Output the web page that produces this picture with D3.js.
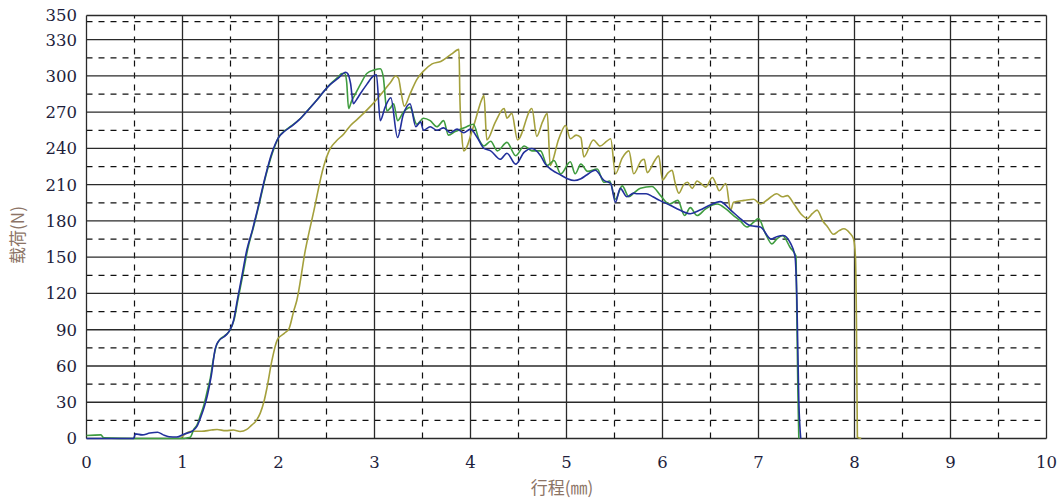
<!DOCTYPE html>
<html>
<head>
<meta charset="utf-8">
<title>载荷-行程曲线</title>
<script src="https://cdnjs.cloudflare.com/ajax/libs/d3/7.8.5/d3.min.js"></script>
<style>
  body { margin: 0; background: #fff; }
  .tick-label { font-family: "DejaVu Serif", serif; font-size: 16.5px; fill: #1e1e3c; }
  .axis-title { font-family: "Noto Sans CJK SC", sans-serif; font-size: 17px; fill: #8c7466; }
</style>
</head>
<body>
<svg id="chart" width="1060" height="500"></svg>
<script>
// distance (mm) vs load (N)
const xTicks = [0, 1, 2, 3, 4, 5, 6, 7, 8, 9, 10]
const yTicks = [0, 30, 60, 90, 120, 150, 180, 210, 240, 270, 300, 330, 350]

const blueRun = [
  [0, 0], [0.49, 0], [0.51, 3.8], [0.58, 3], [0.66, 4.5], [0.74, 5.2], [0.80, 3], [0.86, 1.5],
  [0.94, 1.2], [1.02, 3.8], [1.10, 6], [1.15, 10], [1.19, 17.6], [1.23, 27], [1.26, 36],
  [1.30, 52], [1.34, 74], [1.38, 81], [1.43, 84], [1.48, 88], [1.53, 97], [1.57, 114],
  [1.62, 135], [1.67, 156], [1.73, 173], [1.78, 189], [1.86, 216], [1.93, 236], [2.00, 249],
  [2.06, 254], [2.13, 258], [2.22, 264], [2.30, 271], [2.40, 280], [2.47, 287], [2.54, 293],
  [2.62, 298], [2.70, 303], [2.72, 302], [2.75, 294], [2.78, 277], [2.81, 280], [2.85, 285],
  [2.92, 293], [2.99, 300], [3.02, 301], [3.06, 263], [3.11, 274], [3.17, 282], [3.24, 249],
  [3.30, 268], [3.37, 277], [3.43, 258], [3.48, 262], [3.51, 255], [3.58, 258], [3.65, 255],
  [3.72, 257], [3.79, 253], [3.86, 256], [3.93, 253], [4.00, 256], [4.07, 249], [4.14, 240],
  [4.21, 238], [4.31, 231], [4.38, 236], [4.47, 227], [4.56, 237], [4.64, 240], [4.73, 234],
  [4.78, 227], [4.85, 222], [4.94, 218], [5.01, 215], [5.08, 213.5], [5.15, 215], [5.21, 218],
  [5.30, 222], [5.39, 213.5], [5.46, 211], [5.51, 195.5], [5.56, 207], [5.63, 200], [5.70, 203],
  [5.74, 202.5], [5.83, 202.5], [5.90, 200], [5.97, 197], [6.08, 193], [6.18, 189], [6.29, 186],
  [6.39, 189], [6.49, 193], [6.60, 196], [6.71, 189], [6.81, 182], [6.92, 176], [7.02, 175],
  [7.13, 165], [7.19, 167], [7.26, 168], [7.33, 162], [7.38, 151], [7.40, 114], [7.42, 31], [7.44, 0]
]

const greenRun = [
  [0, 2.5], [0.15, 3], [0.18, 0.5], [0.5, 0], [1.0, 0], [1.05, 0.5], [1.08, 1], [1.12, 8],
  [1.15, 11], [1.19, 20], [1.22, 27], [1.26, 40], [1.29, 50], [1.32, 65], [1.35, 76], [1.39, 82],
  [1.44, 85], [1.49, 89], [1.54, 99], [1.58, 116], [1.63, 136], [1.68, 157], [1.74, 175],
  [1.79, 191], [1.87, 218], [1.94, 237], [2.00, 249], [2.07, 255], [2.14, 259], [2.23, 265],
  [2.31, 272], [2.40, 280], [2.48, 288], [2.55, 294], [2.62, 299], [2.66, 302], [2.69, 302],
  [2.71, 295], [2.73, 273], [2.76, 279], [2.80, 285], [2.86, 294], [2.92, 302], [3.00, 305],
  [3.06, 306], [3.09, 300], [3.13, 271], [3.17, 274], [3.20, 277], [3.24, 263], [3.30, 270],
  [3.37, 274], [3.44, 260], [3.51, 265], [3.58, 263], [3.65, 258], [3.72, 263], [3.77, 251],
  [3.84, 254], [3.90, 256], [3.96, 258], [4.03, 260], [4.09, 247], [4.14, 242], [4.21, 246],
  [4.28, 238], [4.38, 245], [4.47, 234], [4.56, 242], [4.64, 238], [4.73, 238], [4.80, 226],
  [4.87, 230], [4.94, 219], [5.04, 229], [5.09, 219], [5.15, 227], [5.22, 221], [5.32, 223],
  [5.39, 212], [5.45, 213], [5.51, 198], [5.58, 209], [5.65, 200], [5.70, 203], [5.77, 207],
  [5.89, 208.5], [5.98, 201], [6.07, 194], [6.16, 197], [6.23, 184.5], [6.29, 191], [6.36, 184.5],
  [6.45, 190], [6.57, 194], [6.66, 190], [6.74, 184.5], [6.81, 180], [6.88, 175], [6.95, 179],
  [7.00, 182], [7.07, 170], [7.14, 161], [7.19, 165], [7.25, 168], [7.33, 158], [7.39, 151],
  [7.40, 100], [7.41, 40], [7.42, 0]
]

const oliveRun = [
  [0.98, 0], [1.01, 2.5], [1.10, 6], [1.20, 6], [1.30, 7], [1.36, 7.4], [1.45, 6.5], [1.53, 7],
  [1.60, 5.8], [1.67, 7.5], [1.72, 11], [1.77, 15], [1.81, 21], [1.85, 31], [1.88, 42], [1.93, 64],
  [1.99, 82], [2.06, 87], [2.11, 91], [2.16, 106], [2.19, 114], [2.28, 156], [2.37, 189],
  [2.47, 225], [2.54, 240], [2.60, 246], [2.68, 252], [2.75, 259], [2.82, 264], [2.96, 275],
  [3.10, 288], [3.17, 295], [3.22, 300], [3.25, 298], [3.28, 285], [3.31, 275], [3.37, 285],
  [3.44, 297], [3.51, 304], [3.60, 310], [3.69, 312], [3.80, 318], [3.88, 322], [3.89, 280],
  [3.91, 250], [3.93, 238], [4.03, 258], [4.12, 281], [4.14, 284], [4.17, 247], [4.26, 262],
  [4.35, 273], [4.38, 265], [4.43, 269], [4.49, 247], [4.64, 273], [4.69, 250],
  [4.75, 262], [4.80, 269], [4.83, 226], [4.92, 248], [4.99, 259], [5.04, 248], [5.10, 251],
  [5.15, 249], [5.18, 233], [5.28, 247], [5.35, 242], [5.42, 246], [5.46, 248], [5.51, 219],
  [5.58, 232], [5.65, 238], [5.70, 219], [5.78, 230], [5.81, 231], [5.84, 220], [5.92, 230],
  [5.96, 234], [6.00, 214], [6.06, 220], [6.10, 222], [6.13, 212], [6.17, 203], [6.22, 210],
  [6.26, 212], [6.31, 207], [6.36, 213], [6.40, 211], [6.45, 208], [6.52, 216], [6.56, 210],
  [6.59, 205], [6.66, 211], [6.71, 189], [6.74, 195.5], [6.85, 197], [6.95, 198], [7.02, 194],
  [7.10, 198], [7.19, 202.5], [7.25, 200], [7.30, 201], [7.37, 194], [7.44, 186], [7.51, 182],
  [7.56, 186], [7.61, 189], [7.67, 180], [7.72, 175], [7.78, 169], [7.84, 172], [7.89, 173.5],
  [7.95, 170], [7.99, 165], [8.01, 150], [8.02, 100], [8.03, 1], [8.07, 0]
]

const runs = [
  { name: 'olive', data: oliveRun, color: '#a4a03c' },
  { name: 'green', data: greenRun, color: '#3f9c3f' },
  { name: 'blue', data: blueRun, color: '#22309c' }
]

const margin = { left: 86.5, right: 13.5, top: 15.5, bottom: 61.5 }
const W = 1060, H = 500
const svg = d3.select('#chart')

const x = d3.scaleLinear().domain([0, 10]).range([margin.left, W - margin.right])
const y = d3.scaleLinear().domain([0, 350]).range([H - margin.bottom, margin.top])

// grid: dashed half-steps, solid full steps
const grid = svg.append('g')
const halfX = d3.range(0.5, 10, 1)
const halfY = d3.range(15, 350, 30)

grid.selectAll('.hx').data(halfX).enter().append('line')
  .attr('x1', d => x(d)).attr('x2', d => x(d))
  .attr('y1', y(0)).attr('y2', y(350))
  .attr('stroke', '#111').attr('stroke-width', 1.2).attr('stroke-dasharray', '6,6')

grid.selectAll('.hy').data(halfY).enter().append('line')
  .attr('x1', x(0)).attr('x2', x(10))
  .attr('y1', d => y(d)).attr('y2', d => y(d))
  .attr('stroke', '#111').attr('stroke-width', 1.2).attr('stroke-dasharray', '6,6')

grid.selectAll('.fx').data(xTicks).enter().append('line')
  .attr('x1', d => x(d)).attr('x2', d => x(d))
  .attr('y1', y(0)).attr('y2', y(350))
  .attr('stroke', '#2a2a2a').attr('stroke-width', 1.3)

grid.selectAll('.fy').data(yTicks).enter().append('line')
  .attr('x1', x(0)).attr('x2', x(10))
  .attr('y1', d => y(d)).attr('y2', d => y(d))
  .attr('stroke', '#2a2a2a').attr('stroke-width', 1.3)

// curves
const line = d3.line()
  .x(d => x(d[0]))
  .y(d => y(d[1]))
  .curve(d3.curveMonotoneX)

svg.append('g').selectAll('path').data(runs).enter().append('path')
  .attr('d', d => line(d.data))
  .attr('fill', 'none')
  .attr('stroke', d => d.color)
  .attr('stroke-width', 1.6)
  .attr('stroke-linejoin', 'round')

// tick labels
svg.append('g').selectAll('text').data(yTicks).enter().append('text')
  .attr('class', 'tick-label')
  .attr('x', 77).attr('y', d => y(d))
  .attr('dy', '0.36em')
  .attr('text-anchor', 'end')
  .text(d => d)

svg.append('g').selectAll('text').data(xTicks).enter().append('text')
  .attr('class', 'tick-label')
  .attr('x', d => x(d)).attr('y', 468)
  .attr('text-anchor', 'middle')
  .text(d => d)

// axis titles
svg.append('text')
  .attr('class', 'axis-title')
  .attr('transform', 'translate(24,235) rotate(-90)')
  .attr('text-anchor', 'middle')
  .text('载荷(N)')

svg.append('text')
  .attr('class', 'axis-title')
  .attr('x', 562).attr('y', 494)
  .attr('text-anchor', 'middle')
  .text('行程(㎜)')
</script>
</body>
</html>
